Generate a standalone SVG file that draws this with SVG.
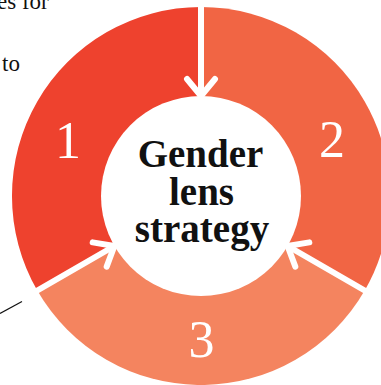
<svg xmlns="http://www.w3.org/2000/svg" width="381" height="385" viewBox="0 0 381 385">
<style>
.body{font-family:"Liberation Serif","Times New Roman",serif;font-size:23px;fill:#111}
.num{font-family:"Liberation Serif","Times New Roman",serif;font-size:52px;fill:#fff;text-anchor:middle}
.title{font-family:"Liberation Serif","Times New Roman",serif;font-size:39px;font-weight:bold;fill:#111;text-anchor:middle}
.div{stroke:#fff;stroke-width:6;fill:none;stroke-linecap:round;stroke-linejoin:round}
</style>
<defs>
<g id="arrow">
<line x1="201" y1="2" x2="201" y2="96" class="div"/>
<path d="M187,79 L201,96 L215,79" class="div"/>
</g>
</defs>
<rect width="381" height="385" fill="#fff"/>
<text class="body" x="-3" y="9">es for</text>
<text class="body" x="2" y="71">to</text>
<line x1="0" y1="313.5" x2="22" y2="301.5" stroke="#111" stroke-width="1.2"/>
<g id="node-1">
<path d="M201,196 L201,7 A189,189 0 0 0 37.3,290.5 Z" fill="#ee422e"/>
<text class="num" x="68" y="158">1</text>
</g>
<g id="node-2">
<path d="M201,196 L201,7 A189,189 0 0 1 364.7,290.5 Z" fill="#f16544"/>
<text class="num" x="332" y="157">2</text>
</g>
<g id="node-3">
<path d="M201,196 L364.7,290.5 A189,189 0 0 1 37.3,290.5 Z" fill="#f4845f"/>
<text class="num" x="201.5" y="357">3</text>
</g>
<g id="node-center">
<circle cx="201" cy="196" r="100" fill="#fff"/>
<text class="title" x="200.5" y="166.5">Gender</text>
<text class="title" x="201.5" y="205">lens</text>
<text class="title" x="202" y="241.5">strategy</text>
</g>
<g id="connectors">
<use href="#arrow"/>
<use href="#arrow" transform="rotate(120 201 196)"/>
<use href="#arrow" transform="rotate(-120 201 196)"/>
</g>
</svg>
